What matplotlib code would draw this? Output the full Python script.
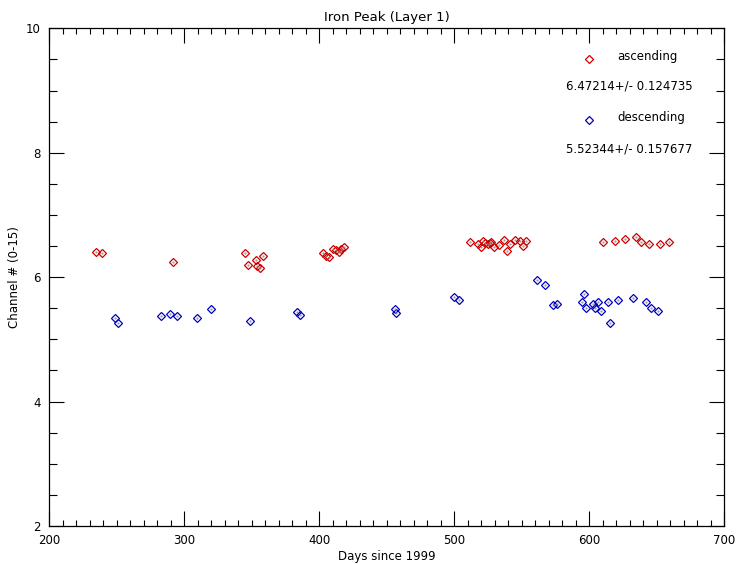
import matplotlib
matplotlib.use("Agg")
import matplotlib.pyplot as plt
from matplotlib.ticker import MultipleLocator

# ascending passes
asc_days = [234.5, 238.8, 291.6, 344.7, 346.9, 353.1, 353.8, 355.8, 358.0,
            402.7, 405.2, 407.2, 410.1, 412.6, 414.3, 416.0, 418.5,
            511.9, 517.3, 519.8, 521.0, 523.0, 524.7, 526.2, 527.2, 529.1,
            533.3, 537.0, 539.0, 541.0, 545.2, 548.9, 550.9, 553.3,
            610.1, 619.3, 626.2, 634.6, 638.3, 644.4, 652.1, 659.3]
asc_vals = [6.41, 6.39, 6.24, 6.39, 6.20, 6.27, 6.18, 6.14, 6.34,
            6.39, 6.34, 6.33, 6.46, 6.43, 6.41, 6.46, 6.48,
            6.57, 6.54, 6.49, 6.58, 6.55, 6.53, 6.55, 6.57, 6.48,
            6.51, 6.60, 6.42, 6.53, 6.59, 6.58, 6.50, 6.58,
            6.56, 6.58, 6.62, 6.64, 6.57, 6.53, 6.54, 6.56]

# descending passes
desc_days = [248.9, 250.6, 282.7, 289.6, 294.6, 309.4, 319.8, 348.9,
             383.5, 385.4, 455.8, 457.0, 500.0, 503.2,
             561.2, 567.4, 573.1, 576.0, 594.6, 596.3, 597.3,
             602.5, 604.4, 606.4, 608.6, 613.6, 615.0, 621.3, 632.4,
             642.2, 645.9, 650.6]
desc_vals = [5.35, 5.26, 5.38, 5.41, 5.38, 5.34, 5.49, 5.30,
             5.44, 5.39, 5.48, 5.42, 5.68, 5.63,
             5.95, 5.87, 5.55, 5.57, 5.60, 5.73, 5.50,
             5.57, 5.50, 5.60, 5.45, 5.60, 5.27, 5.64, 5.67,
             5.60, 5.51, 5.46]

asc_label = "6.47214+/- 0.124735"
desc_label = "5.52344+/- 0.157677"

red = "#cc0000"
blue = "#0000c0"

plt.rcParams['font.family'] = ['DejaVu Sans']
plt.rcParams['font.size'] = 8.5

fig = plt.figure(figsize=(7.37, 5.64), dpi=100)
ax = fig.add_axes([0.0669, 0.0674, 0.9159, 0.8824])

ms = 3.8
ax.plot(asc_days, asc_vals, 'D', ms=ms, mfc='none', mec=red, mew=0.9)
ax.plot(desc_days, desc_vals, 'D', ms=ms, mfc='none', mec=blue, mew=0.9)
ax.plot(asc_days + desc_days, asc_vals + desc_vals, '.', ms=1.0, color='#888888')

ax.set_xlim(200, 700)
ax.set_ylim(2, 10)
ax.xaxis.set_major_locator(MultipleLocator(100))
ax.xaxis.set_minor_locator(MultipleLocator(10))
ax.yaxis.set_major_locator(MultipleLocator(2))
ax.yaxis.set_minor_locator(MultipleLocator(0.5))
ax.tick_params(which='both', direction='in', top=True, right=True, width=0.8)
ax.tick_params(axis='x', which='major', length=11, pad=6)
ax.tick_params(axis='x', which='minor', length=4)
ax.tick_params(axis='y', which='major', length=11, pad=6)
ax.tick_params(axis='y', which='minor', length=6)
for s in ax.spines.values():
    s.set_linewidth(0.9)

ax.set_title("Iron Peak (Layer 1)", fontsize=9.5, pad=5)
ax.set_xlabel("Days since 1999", fontsize=8.5, labelpad=2)
ax.set_ylabel("Channel # (0-15)", fontsize=8.5, labelpad=4)

# legend drawn in data coordinates like the original
ax.plot([600], [9.50], 'D', ms=ms, mfc='none', mec=red, mew=0.9)
ax.text(620.7, 9.55, "ascending", fontsize=8.5, va='center')
ax.text(583, 9.07, asc_label, fontsize=8.5, va='center')
ax.plot([600], [8.52], 'D', ms=ms, mfc='none', mec=blue, mew=0.9)
ax.text(620.7, 8.57, "descending", fontsize=8.5, va='center')
ax.text(583, 8.06, desc_label, fontsize=8.5, va='center')

fig.savefig("out.png", dpi=100)
